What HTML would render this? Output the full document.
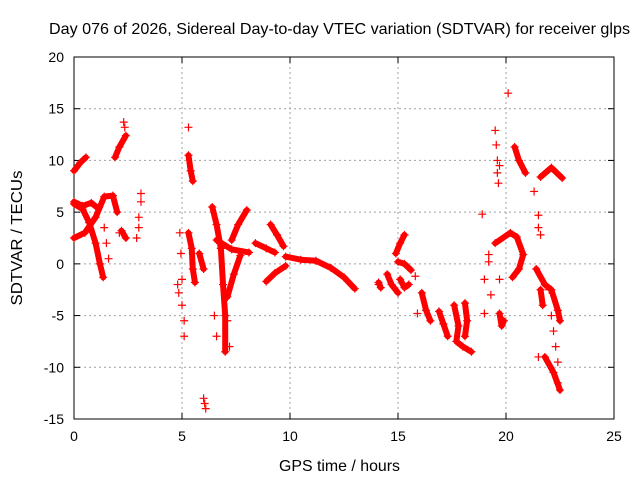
<!DOCTYPE html>
<html><head><meta charset="utf-8"><style>
body{margin:0;background:#fff;}
svg{display:block;font-family:"Liberation Sans",sans-serif;}
</style></head><body>
<svg id="chart" width="640" height="480">
<text x="339.5" y="34" font-size="16" text-anchor="middle" textLength="581" lengthAdjust="spacingAndGlyphs">Day 076 of 2026, Sidereal Day-to-day VTEC variation (SDTVAR) for receiver glps</text>
<g id="grid"></g>
<g id="axes"></g>
<g id="marks"></g>
<text x="339.5" y="471" font-size="16" text-anchor="middle" textLength="121" lengthAdjust="spacingAndGlyphs">GPS time / hours</text>
<text x="22" y="238" font-size="16" text-anchor="middle" textLength="135" lengthAdjust="spacingAndGlyphs" transform="rotate(-90 22 238)">SDTVAR / TECUs</text>
</svg>
<script>
const xTicks=[0,5,10,15,20,25];
const yTicks=[-15,-10,-5,0,5,10,15,20];
// dense bands (thick tracks) [hour, TECU]
const bandA=[[0,9],[0.3,9.8],[0.55,10.3]];
const bandB=[[0,2.5],[0.5,3],[1,4.5],[1.4,6.5],[1.8,6.6],[2,5]];
const bandC=[[0,5.8],[0.4,5.3],[0.7,4],[1,2],[1.2,0],[1.35,-1.3]];
const bandD=[[0,6],[0.4,5.6],[0.8,5.9],[1.1,5.4]];
const bandE=[[1.9,10.3],[2.1,11.3],[2.4,12.4]];
const bandF=[[2.2,3.2],[2.4,2.5]];
const bandG=[[5.3,10.5],[5.4,9],[5.5,8]];
const bandH=[[5.3,3],[5.45,1.5],[5.5,-0.5],[5.6,-1.8]];
const bandI=[[5.8,1],[6,-0.5]];
const bandJ=[[6.4,5.5],[6.6,3.8],[6.8,1.5]];
const bandK=[[6.8,1.5],[6.9,-2],[7,-5],[7,-8.5]];
const bandL=[[6.6,2.3],[7.3,1.4],[8.1,1.1]];
const bandM=[[7.3,2.3],[7.6,3.8],[8,5.2]];
const bandN=[[7.7,0.8],[7.4,-1],[7.1,-3.2]];
const bandO=[[8.4,2],[8.9,1.5],[9.3,1.1]];
const bandP=[[9.1,3.8],[9.4,2.8],[9.7,1.7]];
const bandQ=[[8.9,-1.7],[9.3,-0.9],[9.8,-0.2]];
const bandR=[[9.8,0.7],[10.5,0.4],[11.2,0.3],[11.9,-0.4],[12.5,-1.3],[13,-2.4]];
const bandS=[[14.1,-1.8],[14.2,-2.3]];
const bandT=[[14.5,-1],[14.7,-2],[15,-2.8]];
const bandU=[[15,0.2],[15.3,0],[15.6,-0.6]];
const bandV=[[15.1,-1.5],[15.3,-2.3],[15.5,-2]];
const bandW=[[14.9,1],[15.1,2],[15.3,2.8]];
const bandX=[[16.1,-2.8],[16.3,-4.5],[16.5,-5.5]];
const bandY=[[16.9,-4.6],[17.1,-5.8],[17.3,-7]];
const bandZ=[[17.6,-4],[17.8,-6],[17.7,-7.5],[18,-8],[18.4,-8.5]];
const bandZ2=[[18.1,-3.8],[18.2,-5.5],[18.1,-7]];
const bandR1=[[20.4,11.3],[20.6,10],[20.9,8.8]];
const bandR2=[[21.6,8.4],[22.1,9.3],[22.6,8.3]];
const bandR3=[[19.5,2],[20.2,3],[20.5,2.6],[20.8,0.9],[20.6,-0.5],[20.3,-1.3]];
const bandR4=[[19.7,-4.8],[19.8,-6],[19.9,-5.5]];
const bandR5=[[21.4,-0.5],[21.8,-2],[22.1,-2.5],[22.4,-4.5],[22.5,-5.5]];
const bandR6=[[21.8,-9],[22.2,-10.5],[22.5,-12.2]];
const bandR7=[[21.6,-2.5],[21.7,-4]];
const bands=[bandA,bandB,bandC,bandD,bandE,bandF,bandG,bandH,bandI,bandJ,bandK,bandL,bandM,bandN,bandO,bandP,bandQ,bandR,bandS,bandT,bandU,bandV,bandW,bandX,bandY,bandZ,bandZ2,bandR1,bandR2,bandR3,bandR4,bandR5,bandR6,bandR7];
// scattered single observations [hour, TECU]
const scatterX=[2.3,2.35,2.1,1.4,1.5,1.6,2.9,3.0,3.0,3.1,3.1,4.8,4.85,4.9,4.95,5.0,5.0,5.1,5.1,5.3,6.0,6.05,6.1,6.5,6.6,7.0,7.1,7.2,19.5,19.55,19.6,19.6,19.65,19.7,20.1,18.9,19.2,19.2,19.0,19.7,19.3,19.0,21.3,21.5,21.5,21.6,22.0,22.1,22.2,22.3,22.4,22.4,21.5,14.1,15.9,15.8];
const scatterY=[13.7,13.2,3,3.5,2,0.5,2.5,3.5,4.5,6,6.8,-2,-2.8,3,1,-1.5,-4,-5.5,-7,13.2,-13,-13.5,-14,-5,-7,-3,-5.5,-8,12.9,11.5,10,8.8,7.8,9.5,16.5,4.8,0.9,0.2,-1.5,-1.5,-3,-4.8,7,4.7,3.5,2.8,-2.5,-5,-6.5,-8,-9.5,-11.5,-9,-2,-4.8,-1.2];

const X0=74,X1=614,Y0=419,Y1=57;
const sx=v=>X0+(v-0)/25*(X1-X0);
const sy=v=>Y0-(v+15)/35*(Y0-Y1);
const NS="http://www.w3.org/2000/svg";
const grid=document.getElementById('grid'),axes=document.getElementById('axes'),marks=document.getElementById('marks');
function mk(p,tag,attrs){const e=document.createElementNS(NS,tag);for(const k in attrs)e.setAttribute(k,attrs[k]);p.appendChild(e);return e;}
xTicks.forEach(t=>{
 if(t>0&&t<25){const g=mk(grid,'line',{x1:sx(t),x2:sx(t),y1:Y1,y2:Y0,stroke:'#a0a0a0','stroke-dasharray':'2,3'});
 
 }
 mk(axes,'line',{x1:sx(t),x2:sx(t),y1:Y0,y2:Y0-6,stroke:'#000'});
 mk(axes,'line',{x1:sx(t),x2:sx(t),y1:Y1,y2:Y1+6,stroke:'#000'});
 const l=mk(axes,'text',{x:sx(t),y:Y0+22,'font-size':14,'text-anchor':'middle'});l.textContent=t;
 
 
});
yTicks.forEach(t=>{
 if(t>-15&&t<20){const g=mk(grid,'line',{x1:X0,x2:X1,y1:sy(t),y2:sy(t),stroke:'#a0a0a0','stroke-dasharray':'2,3'});
 
 }
 mk(axes,'line',{x1:X0,x2:X0+6,y1:sy(t),y2:sy(t),stroke:'#000'});
 mk(axes,'line',{x1:X1,x2:X1-6,y1:sy(t),y2:sy(t),stroke:'#000'});
 const l=mk(axes,'text',{x:X0-10,y:sy(t)+5,'font-size':14,'text-anchor':'end'});l.textContent=t;
 
 
});
mk(axes,'rect',{x:X0,y:Y1,width:X1-X0,height:Y0-Y1,fill:'none',stroke:'#000'});
function plus(x,y){mk(marks,'path',{d:`M${x-4},${y}h8M${x},${y-4}v8`,stroke:'#f00','stroke-width':1.2});}
bands.forEach(b=>{
 const pl=mk(marks,'polyline',{points:b.map(p=>sx(p[0])+','+sy(p[1])).join(' '),fill:'none',stroke:'#f00','stroke-width':6,'stroke-linejoin':'round','stroke-linecap':'round'});
 
 
 b.forEach(p=>plus(sx(p[0]),sy(p[1])));
});
scatterX.forEach((x,i)=>plus(sx(x),sy(scatterY[i])));
</script>
</body></html>
